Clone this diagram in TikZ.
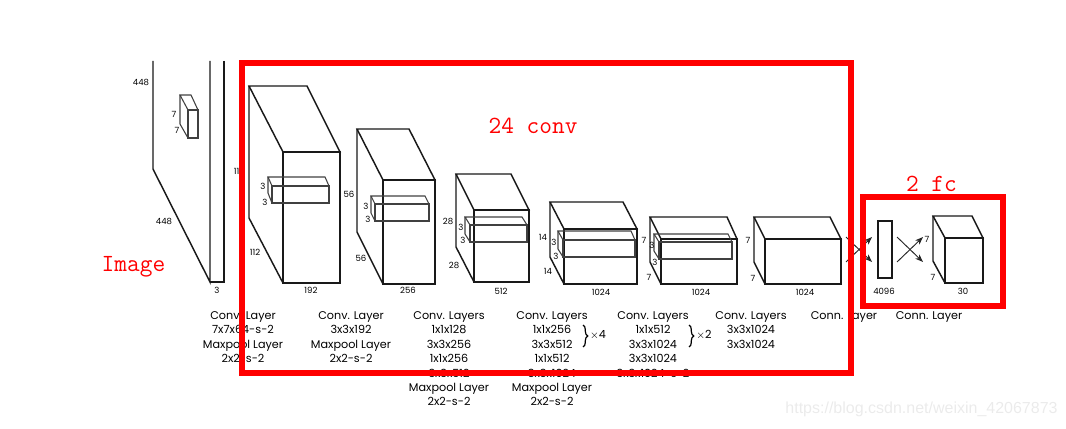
\documentclass[tikz,border=0pt]{standalone}
\usepackage{fontspec}
\setmainfont{Poppins}
\newfontfamily\markfont{Liberation Sans}
\usepackage{tikz}
\usetikzlibrary{arrows.meta,positioning,decorations.pathreplacing}

\tikzset{
  cubeedge/.style={line width=1.1pt,black!90},
  inneredge/.style={line width=0.8pt,black!75},
  dimlabel/.style={font=\fontsize{6.4}{7}\selectfont,inner sep=0pt},
  caption/.style={font=\fontsize{8.4}{10.85}\selectfont,align=center,anchor=north,inner sep=0pt},
  redbox/.style={draw=red,line width=4.5pt},
  redlabel/.style={font=\ttfamily\fontsize{18.5}{20}\selectfont,text=red,inner sep=0pt},
  crossarrow/.style={line width=0.7pt,black!85,-{Stealth[length=6pt,width=4.5pt]}}
}

\begin{document}
\begin{tikzpicture}[x=0.75pt,y=-0.75pt]
  \useasboundingbox (0,0) rectangle (1066,428);

  % Input image slab
  \draw[cubeedge] (153,61) -- (153,169) -- (210,282) -- (210,61);
  \draw[cubeedge] (224,61) -- (224,282) -- (210,282);

  % Cuboids: back x,y / back right / front x,y / front right / bottom / back bottom
  \foreach \ax/\ay/\bx/\fx/\fy/\gx/\by/\cy in {
    249/86/307/283/152/340/283/218,
    357/129/409/383/180/435/284/232,
    456/174/511/474/210/529/282/247,
    550/202/623/564/229/637/284/257,
    650/217/727/661/239/737/284/262,
    754/217/830/765/239/841/284/262,
    933/216/972/945/238/983/283/261} {
    \draw[cubeedge] (\ax,\ay) -- (\bx,\ay) -- (\gx,\fy) -- (\fx,\fy) -- cycle;
    \draw[cubeedge] (\fx,\fy) rectangle (\gx,\by);
    \draw[cubeedge] (\ax,\ay) -- (\ax,\cy) -- (\fx,\by);
  }

  % Kernels
  \foreach \ax/\ay/\bx/\fx/\fy/\gx/\by/\cy in {
    180/95/191/188/110/198/138/124,
    268/177/325/272/186/329/203/193,
    371/196/425/375/204/429/221/213,
    465/217/522/470/225/527/242/234,
    558/231/631/563/240/635/257/249,
    654/234/728/659/242/732/259/251} {
    \draw[inneredge] (\ax,\ay) -- (\bx,\ay) -- (\gx,\fy) -- (\fx,\fy) -- cycle;
    \draw[inneredge] (\fx,\fy) rectangle (\gx,\by);
    \draw[inneredge] (\ax,\ay) -- (\ax,\cy) -- (\fx,\by);
  }

  % Fully connected layer
  \node[draw,cubeedge,minimum width=10.5pt,minimum height=42.75pt,inner sep=0pt] (fcbar) at (885,249.5) {};

  % Crossing arrows
  \coordinate (crossaa) at (846,237);
  \coordinate (crossab) at (872,262);
  \coordinate (crossac) at (846,262);
  \coordinate (crossad) at (872,237);
  \coordinate (crossba) at (897,237);
  \coordinate (crossbb) at (923,262);
  \coordinate (crossbc) at (897,262);
  \coordinate (crossbd) at (923,237);
  \draw[crossarrow] (crossaa) -- (crossab);
  \draw[crossarrow] (crossac) -- (crossad);
  \draw[crossarrow] (crossba) -- (crossbb);
  \draw[crossarrow] (crossbc) -- (crossbd);

  % Dimension labels
  \foreach \lx/\ly/\ltxt [count=\n] in {
    141/82/448, 164/221/448, 174/114/7, 177/130/7, 217/290/3,
    239/171/112, 255/252/112, 311/290/192, 263/186/3, 265/202/3,
    349/194/56, 361/258/56, 408/290/256, 366/206/3, 368/219/3,
    448/221/28, 461/227/3, 463/240/3, 454/265/28, 501/291/512,
    543/237/14, 554/242/3, 556/256/3, 548/271/14, 601/292/1024,
    644/240/7, 652/245/3, 655/262/3, 649/277/7, 701/292/1024,
    748/240/7, 753/278/7, 805/292/1024,
    884/291/4096, 963/291/30, 927/239/7, 933/277/7} {
    \node[dimlabel] (dim\n) at (\lx,\ly) {\ltxt};
  }

  % Captions
  \node[caption] (capa) at (243,311) {Conv. Layer\\7x7x64-s-2\\Maxpool Layer\\2x2-s-2};
  \node[caption] (capb) at (351,311) {Conv. Layer\\3x3x192\\Maxpool Layer\\2x2-s-2};
  \node[caption] (capc) at (449,311) {Conv. Layers\\1x1x128\\3x3x256\\1x1x256\\3x3x512\\Maxpool Layer\\2x2-s-2};
  \node[caption] (capd) at (552,311) {Conv. Layers\\1x1x256\\3x3x512\\1x1x512\\3x3x1024\\Maxpool Layer\\2x2-s-2};
  \node[caption] (cape) at (653,311) {Conv. Layers\\1x1x512\\3x3x1024\\3x3x1024\\3x3x1024-s-2};
  \node[caption] (capf) at (751,311) {Conv. Layers\\3x3x1024\\3x3x1024};
  \node[caption] (capg) at (844,311) {Conn. Layer};
  \node[caption] (caph) at (929,311) {Conn. Layer};

  % Repeat braces
  \coordinate (bracea) at (583,325);
  \coordinate (braceb) at (583,347);
  \coordinate (bracec) at (689,325);
  \coordinate (braced) at (689,347);
  \draw[decorate,decoration={brace,amplitude=3.5pt},line width=0.9pt] (bracea) -- (braceb);
  \draw[decorate,decoration={brace,amplitude=3.5pt},line width=0.9pt] (bracec) -- (braced);
  \node[caption,anchor=center] (timesa) at (598,335) {$\times$4};
  \node[caption,anchor=center] (timesb) at (704,335) {$\times$2};

  % Red annotations
  \draw[redbox] (242,63) rectangle (851,373);
  \draw[redbox] (863,197) rectangle (1003,306);
  \node[redlabel] (convlabel) at (533,126) {24 conv};
  \node[redlabel] (imagelabel) at (133.5,267) {Image};
  \node[redlabel] (fclabel) at (931.5,184) {2 fc};

  % Watermark
  \node[font=\markfont\fontsize{12}{14}\selectfont,text=black!8,inner sep=0pt] (watermark) at (921.5,409) {https://blog.csdn.net/weixin\_42067873};
\end{tikzpicture}
\end{document}
